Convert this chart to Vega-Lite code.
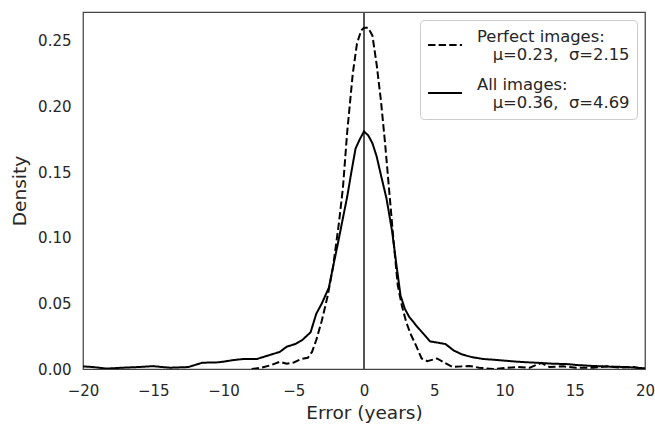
{
  "$schema": "https://vega.github.io/schema/vega-lite/v6.json",
  "autosize": {"type": "none"},
  "padding": {"left": 83, "top": 12, "right": 10, "bottom": 55},
  "width": 562,
  "height": 357,
  "background": "white",
  "config": {
    "font": "DejaVu Sans",
    "view": {"stroke": "#444444", "strokeWidth": 1.25},
    "axis": {
      "domain": false, "ticks": false, "grid": false, "labelFlush": false,
      "labelFont": "DejaVu Sans", "labelFontSize": 15, "labelColor": "#262626",
      "titleFont": "DejaVu Sans", "titleFontSize": 18.5, "titleColor": "#262626", "titleFontWeight": "normal"
    },
    "legend": {
      "orient": "top-right", "offset": 8, "padding": 7,
      "strokeColor": "#cccccc", "fillColor": "white", "cornerRadius": 4,
      "labelFont": "DejaVu Sans", "labelFontSize": 16.4, "labelColor": "#262626", "labelBaseline": "bottom",
      "symbolType": "stroke", "symbolSize": 1150, "symbolStrokeWidth": 2, "symbolStrokeColor": "black",
      "labelOffset": 14, "rowPadding": 11
    }
  },
  "data": {"values": [
    {"series": "Perfect images", "error": -8.0, "density": 0.0},
    {"series": "Perfect images", "error": -7.3, "density": 0.001},
    {"series": "Perfect images", "error": -6.6, "density": 0.003},
    {"series": "Perfect images", "error": -6.0, "density": 0.0055},
    {"series": "Perfect images", "error": -5.5, "density": 0.004},
    {"series": "Perfect images", "error": -5.0, "density": 0.005},
    {"series": "Perfect images", "error": -4.5, "density": 0.0075},
    {"series": "Perfect images", "error": -4.0, "density": 0.0085},
    {"series": "Perfect images", "error": -3.7, "density": 0.013},
    {"series": "Perfect images", "error": -3.4, "density": 0.022},
    {"series": "Perfect images", "error": -3.0, "density": 0.037},
    {"series": "Perfect images", "error": -2.6, "density": 0.055},
    {"series": "Perfect images", "error": -2.2, "density": 0.078},
    {"series": "Perfect images", "error": -1.8, "density": 0.11},
    {"series": "Perfect images", "error": -1.5, "density": 0.138},
    {"series": "Perfect images", "error": -1.2, "density": 0.18},
    {"series": "Perfect images", "error": -0.8, "density": 0.225},
    {"series": "Perfect images", "error": -0.5, "density": 0.248},
    {"series": "Perfect images", "error": -0.2, "density": 0.258},
    {"series": "Perfect images", "error": 0.0, "density": 0.26},
    {"series": "Perfect images", "error": 0.3, "density": 0.26},
    {"series": "Perfect images", "error": 0.6, "density": 0.254},
    {"series": "Perfect images", "error": 0.9, "density": 0.232},
    {"series": "Perfect images", "error": 1.2, "density": 0.205},
    {"series": "Perfect images", "error": 1.5, "density": 0.172},
    {"series": "Perfect images", "error": 1.8, "density": 0.135},
    {"series": "Perfect images", "error": 2.1, "density": 0.098},
    {"series": "Perfect images", "error": 2.4, "density": 0.064},
    {"series": "Perfect images", "error": 2.7, "density": 0.048},
    {"series": "Perfect images", "error": 3.0, "density": 0.036},
    {"series": "Perfect images", "error": 3.3, "density": 0.027},
    {"series": "Perfect images", "error": 3.7, "density": 0.018},
    {"series": "Perfect images", "error": 4.1, "density": 0.008},
    {"series": "Perfect images", "error": 4.5, "density": 0.006},
    {"series": "Perfect images", "error": 5.2, "density": 0.008},
    {"series": "Perfect images", "error": 5.7, "density": 0.005},
    {"series": "Perfect images", "error": 6.3, "density": 0.0015},
    {"series": "Perfect images", "error": 7.0, "density": 0.002},
    {"series": "Perfect images", "error": 7.5, "density": 0.0023},
    {"series": "Perfect images", "error": 8.2, "density": 0.001},
    {"series": "Perfect images", "error": 9.2, "density": 0.0},
    {"series": "Perfect images", "error": 10.2, "density": 0.001},
    {"series": "Perfect images", "error": 10.9, "density": 0.0015},
    {"series": "Perfect images", "error": 11.8, "density": 0.001},
    {"series": "Perfect images", "error": 12.6, "density": 0.0046},
    {"series": "Perfect images", "error": 13.2, "density": 0.0015},
    {"series": "Perfect images", "error": 14.2, "density": 0.002},
    {"series": "Perfect images", "error": 15.1, "density": 0.001},
    {"series": "Perfect images", "error": 16.3, "density": 0.001},
    {"series": "Perfect images", "error": 17.3, "density": 0.002},
    {"series": "Perfect images", "error": 18.2, "density": 0.001},
    {"series": "Perfect images", "error": 19.2, "density": 0.0015},
    {"series": "Perfect images", "error": 20.0, "density": 0.0},
    {"series": "All images", "error": -20.0, "density": 0.002},
    {"series": "All images", "error": -19.3, "density": 0.0015},
    {"series": "All images", "error": -18.3, "density": 0.0003},
    {"series": "All images", "error": -17.2, "density": 0.001},
    {"series": "All images", "error": -16.0, "density": 0.0015},
    {"series": "All images", "error": -15.0, "density": 0.0022},
    {"series": "All images", "error": -14.4, "density": 0.0015},
    {"series": "All images", "error": -13.8, "density": 0.001},
    {"series": "All images", "error": -12.5, "density": 0.0015},
    {"series": "All images", "error": -11.5, "density": 0.0048},
    {"series": "All images", "error": -10.5, "density": 0.005},
    {"series": "All images", "error": -10.0, "density": 0.0056},
    {"series": "All images", "error": -9.3, "density": 0.0068},
    {"series": "All images", "error": -8.6, "density": 0.0076},
    {"series": "All images", "error": -7.6, "density": 0.0077},
    {"series": "All images", "error": -6.7, "density": 0.0107},
    {"series": "All images", "error": -6.0, "density": 0.013},
    {"series": "All images", "error": -5.5, "density": 0.017},
    {"series": "All images", "error": -4.9, "density": 0.019},
    {"series": "All images", "error": -4.4, "density": 0.022},
    {"series": "All images", "error": -3.8, "density": 0.028},
    {"series": "All images", "error": -3.4, "density": 0.042},
    {"series": "All images", "error": -3.0, "density": 0.05},
    {"series": "All images", "error": -2.5, "density": 0.062},
    {"series": "All images", "error": -2.2, "density": 0.078},
    {"series": "All images", "error": -1.85, "density": 0.096},
    {"series": "All images", "error": -1.5, "density": 0.115},
    {"series": "All images", "error": -1.2, "density": 0.131},
    {"series": "All images", "error": -0.9, "density": 0.15},
    {"series": "All images", "error": -0.6, "density": 0.168},
    {"series": "All images", "error": -0.3, "density": 0.175},
    {"series": "All images", "error": 0.0, "density": 0.181},
    {"series": "All images", "error": 0.3, "density": 0.178},
    {"series": "All images", "error": 0.6, "density": 0.172},
    {"series": "All images", "error": 0.9, "density": 0.162},
    {"series": "All images", "error": 1.2, "density": 0.148},
    {"series": "All images", "error": 1.6, "density": 0.13},
    {"series": "All images", "error": 2.0, "density": 0.105},
    {"series": "All images", "error": 2.3, "density": 0.08},
    {"series": "All images", "error": 2.6, "density": 0.056},
    {"series": "All images", "error": 2.9, "density": 0.046},
    {"series": "All images", "error": 3.2, "density": 0.04},
    {"series": "All images", "error": 3.8, "density": 0.032},
    {"series": "All images", "error": 4.3, "density": 0.026},
    {"series": "All images", "error": 4.7, "density": 0.021},
    {"series": "All images", "error": 5.3, "density": 0.02},
    {"series": "All images", "error": 5.8, "density": 0.019},
    {"series": "All images", "error": 6.4, "density": 0.014},
    {"series": "All images", "error": 7.0, "density": 0.011},
    {"series": "All images", "error": 7.7, "density": 0.009},
    {"series": "All images", "error": 8.5, "density": 0.0076},
    {"series": "All images", "error": 9.3, "density": 0.007},
    {"series": "All images", "error": 10.2, "density": 0.0062},
    {"series": "All images", "error": 11.0, "density": 0.0055},
    {"series": "All images", "error": 11.8, "density": 0.005},
    {"series": "All images", "error": 12.6, "density": 0.0046},
    {"series": "All images", "error": 13.5, "density": 0.004},
    {"series": "All images", "error": 14.4, "density": 0.0038},
    {"series": "All images", "error": 15.2, "density": 0.003},
    {"series": "All images", "error": 16.3, "density": 0.0023},
    {"series": "All images", "error": 17.5, "density": 0.0018},
    {"series": "All images", "error": 18.7, "density": 0.0015},
    {"series": "All images", "error": 20.0, "density": 0.0005}
  ]},
  "layer": [
    {
      "mark": {"type": "rule", "color": "#555555", "strokeWidth": 0.9},
      "encoding": {"x": {"datum": 0, "type": "quantitative"}}
    },
    {
      "mark": {"type": "line", "color": "black", "strokeWidth": 2, "clip": true},
      "encoding": {
        "x": {
          "field": "error", "type": "quantitative",
          "scale": {"domain": [-20, 20], "nice": false},
          "axis": {"title": "Error (years)", "values": [-20, -15, -10, -5, 0, 5, 10, 15, 20], "labelPadding": 14, "titlePadding": 5}
        },
        "y": {
          "field": "density", "type": "quantitative",
          "scale": {"domain": [0, 0.272], "nice": false, "zero": false},
          "axis": {"title": "Density", "values": [0, 0.05, 0.1, 0.15, 0.2, 0.25], "format": ".2f", "labelPadding": 12, "titlePadding": 8}
        },
        "strokeDash": {
          "field": "series", "type": "nominal",
          "scale": {"domain": ["Perfect images", "All images"], "range": [[7.4, 3.2], [1, 0]]},
          "legend": {
            "title": null,
            "labelExpr": "datum.value == 'Perfect images' ? ['Perfect images:', '\u200b\u00a0\u00a0\u00a0μ=0.23,\u00a0\u00a0σ=2.15'] : ['All images:', '\u200b\u00a0\u00a0\u00a0μ=0.36,\u00a0\u00a0σ=4.69']"
          }
        }
      }
    }
  ]
}
